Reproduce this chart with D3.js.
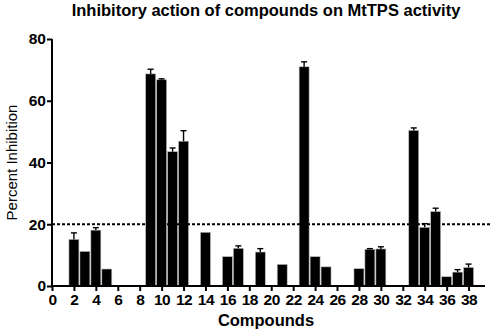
<!DOCTYPE html>
<html lang="en">
<head>
<meta charset="utf-8">
<title>Inhibitory action of compounds on MtTPS activity</title>
<script src="https://d3js.org/d3.v7.min.js"></script>
<style>
  body { margin: 0; background: #fff; }
  text { font-family: "Liberation Sans", Arial, sans-serif; }
</style>
</head>
<body>
<div class="chart"></div>
<script>
// compound numbers with measured inhibition (%) and SEM
const compounds = [2, 3, 4, 5, 9, 10, 11, 12, 14, 16, 17, 19, 21, 23, 24, 25, 28, 29, 30, 33, 34, 35, 36, 37, 38];
const inhibition = [15.1, 11.2, 18.1, 5.5, 68.7, 66.8, 43.5, 46.9, 17.4, 9.5, 12.2, 11.0, 7.0, 71.0, 9.5, 6.2, 5.6, 11.9, 12.0, 50.4, 19.0, 24.1, 3.0, 4.5, 6.0];
const sem = [2.1, 0, 0.8, 0, 1.5, 0.3, 1.2, 3.4, 0, 0, 0.8, 1.1, 0, 1.6, 0, 0, 0, 0.2, 0.7, 0.8, 1.2, 1.1, 0, 0.8, 1.1];
const xTicks = d3.range(0, 40, 2);
const yTicks = [0, 20, 40, 60, 80];
const threshold = 20;

const width = 496, height = 334;
const svg = d3.select('.chart').append('svg')
  .attr('width', width)
  .attr('height', height);

const x = d3.scaleLinear().domain([0, 39.5]).range([52, 485]);
const y = d3.scaleLinear().domain([0, 80]).range([286, 39]);

const data = compounds.map((c, i) => ({c: c, v: inhibition[i], e: sem[i]}));
const bw = x(1) - x(0);

// bars
svg.selectAll('rect.bar')
  .data(data)
  .enter()
  .append('rect')
  .attr('class', 'bar')
  .attr('x', d => x(d.c - 0.5) + 0.5)
  .attr('width', bw - 1)
  .attr('y', d => y(d.v))
  .attr('height', d => y(0) - y(d.v))
  .attr('fill', '#000')
  .attr('stroke', '#bbb')
  .attr('stroke-width', 0.6);

// error bars (upper only)
const err = svg.selectAll('g.err')
  .data(data.filter(d => d.e > 0))
  .enter()
  .append('g')
  .attr('class', 'err')
  .attr('stroke', '#000')
  .attr('stroke-width', 1.4);
err.append('line')
  .attr('x1', d => x(d.c)).attr('x2', d => x(d.c))
  .attr('y1', d => y(d.v)).attr('y2', d => y(d.v + d.e));
err.append('line')
  .attr('x1', d => x(d.c) - 3).attr('x2', d => x(d.c) + 3)
  .attr('y1', d => y(d.v + d.e)).attr('y2', d => y(d.v + d.e));

// 20% threshold
svg.append('line')
  .attr('x1', x(0)).attr('x2', x(40.1))
  .attr('y1', y(threshold)).attr('y2', y(threshold))
  .attr('stroke', '#000')
  .attr('stroke-width', 2.2)
  .attr('stroke-dasharray', '3,2');

// axes
const xAxis = svg.append('g')
  .attr('transform', `translate(0,${y(0)})`)
  .call(d3.axisBottom(x).tickValues(xTicks).tickSize(5).tickPadding(3).tickFormat(d3.format('d')));
const yAxis = svg.append('g')
  .attr('transform', `translate(${x(0)},0)`)
  .call(d3.axisLeft(y).tickValues(yTicks).tickSize(5).tickPadding(1));

[xAxis, yAxis].forEach(g => {
  g.selectAll('.tick line').attr('stroke-width', 2);
  g.selectAll('.tick text')
    .attr('font-size', 15.5)
    .attr('font-weight', 'bold')
    .attr('font-family', '"Liberation Sans", Arial, sans-serif')
    .attr('fill', '#000');
});
xAxis.select('.domain').remove();
yAxis.select('.domain').remove();
xAxis.selectAll('.tick text').attr('letter-spacing', -0.5);

svg.append('line')
  .attr('x1', x(0) - 1).attr('x2', x(39.5))
  .attr('y1', y(0)).attr('y2', y(0))
  .attr('stroke', '#000').attr('stroke-width', 2);
svg.append('line')
  .attr('x1', x(0)).attr('x2', x(0))
  .attr('y1', y(0)).attr('y2', y(80))
  .attr('stroke', '#000').attr('stroke-width', 2);

// titles
svg.append('text')
  .attr('x', 266).attr('y', 16)
  .attr('text-anchor', 'middle')
  .attr('font-size', 16.5).attr('font-weight', 'bold')
  .text('Inhibitory action of compounds on MtTPS activity');

svg.append('text')
  .attr('x', 266).attr('y', 326)
  .attr('text-anchor', 'middle')
  .attr('font-size', 16.5).attr('font-weight', 'bold')
  .text('Compounds');

svg.append('text')
  .attr('transform', `translate(17,${(y(0) + y(80)) / 2}) rotate(-90)`)
  .attr('text-anchor', 'middle')
  .attr('font-size', 15)
  .text('Percent Inhibition');
</script>
</body>
</html>
